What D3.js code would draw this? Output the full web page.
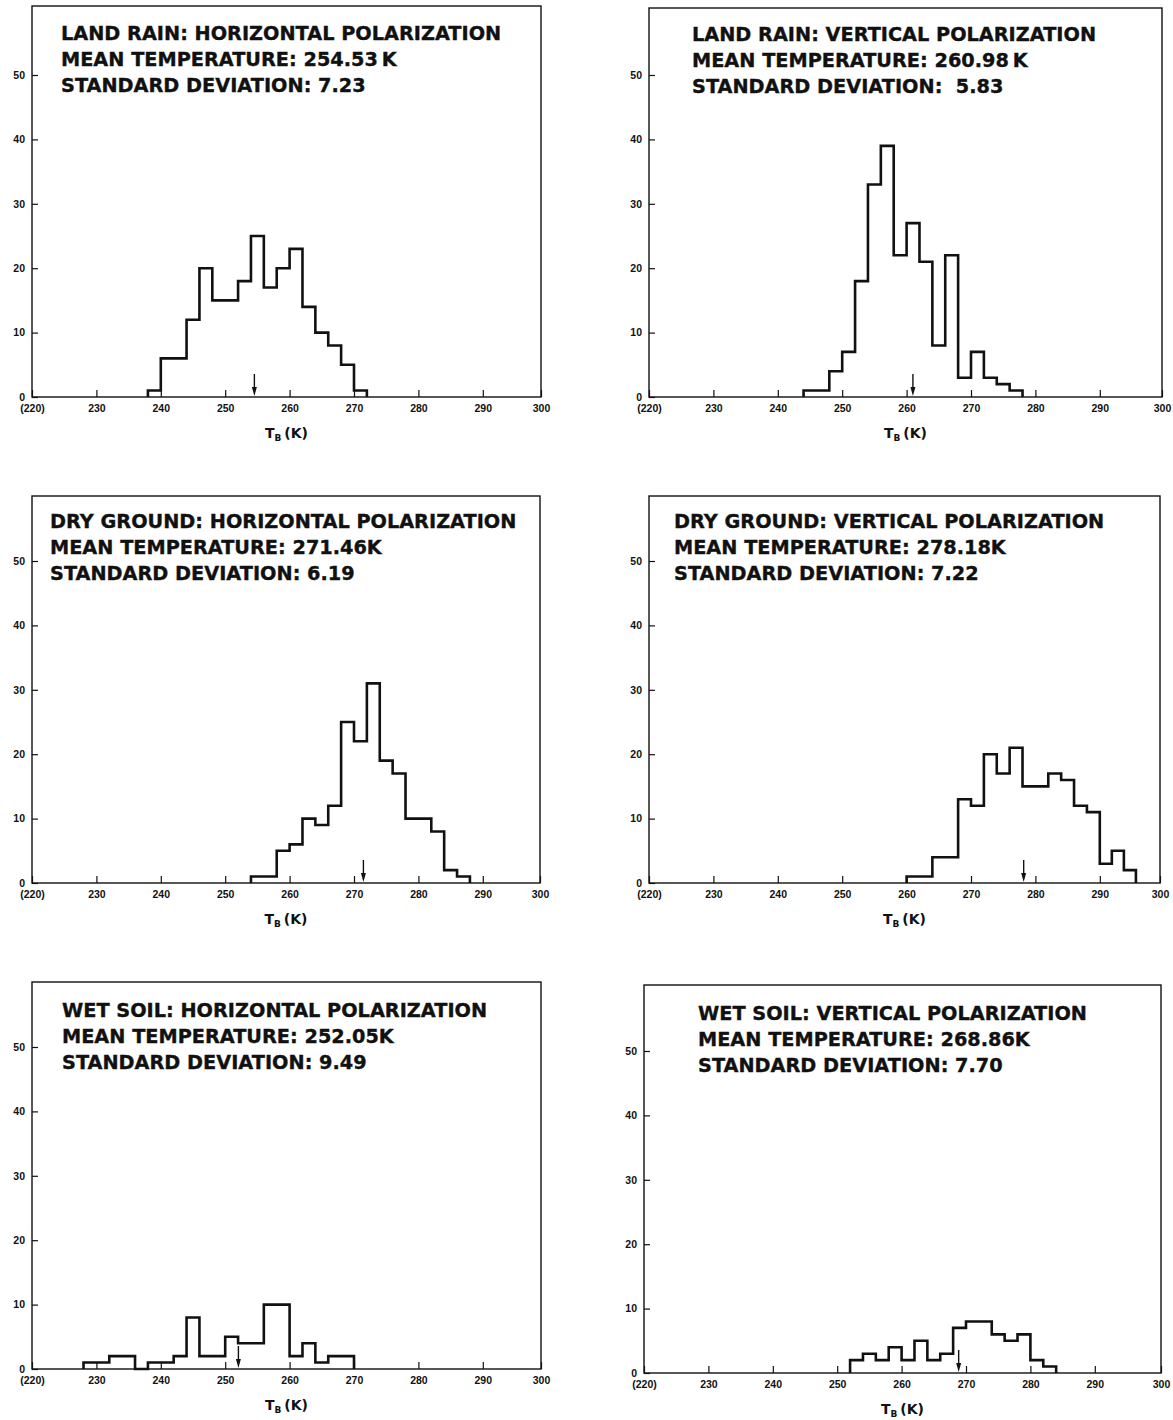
<!DOCTYPE html>
<html>
<head>
<meta charset="utf-8">
<script src="https://cdn.jsdelivr.net/npm/d3@7"></script>
<style>
  body { margin: 0; background: #fff; }
  svg { display: block; }
</style>
</head>
<body>
<svg id="chart" width="1173" height="1420"></svg>
<script>
// counts per 2 K bin
var binWidth = 2;
var landRainH = [1, 6, 6, 12, 20, 15, 15, 18, 25, 17, 20, 23, 14, 10, 8, 5, 1];
var landRainV = [1, 1, 4, 7, 18, 33, 39, 22, 27, 21, 8, 22, 3, 7, 3, 2, 1];
var dryGroundH = [1, 1, 5, 6, 10, 9, 12, 25, 22, 31, 19, 17, 10, 10, 8, 2, 1];
var dryGroundV = [1, 1, 4, 4, 13, 12, 20, 17, 21, 15, 15, 17, 16, 12, 11, 3, 5, 2];
var wetSoilH = [1, 1, 2, 2, 0, 1, 1, 2, 8, 2, 2, 5, 4, 4, 10, 10, 2, 4, 1, 2, 2];
var wetSoilV = [2, 3, 2, 4, 2, 5, 2, 3, 7, 8, 8, 6, 5, 6, 2, 1];

var series = [landRainH, landRainV, dryGroundH, dryGroundV, wetSoilH, wetSoilV];
var binStarts = [238, 244, 254, 260, 228, 252];
var means = [254.53, 260.98, 271.46, 278.18, 252.05, 268.86];

var titles = [
  "LAND RAIN: HORIZONTAL POLARIZATION",
  "LAND RAIN: VERTICAL POLARIZATION",
  "DRY GROUND: HORIZONTAL POLARIZATION",
  "DRY GROUND: VERTICAL POLARIZATION",
  "WET SOIL: HORIZONTAL POLARIZATION",
  "WET SOIL: VERTICAL POLARIZATION"
];
var meanLabels = ["254.53\u2009K", "260.98\u2009K", "271.46K", "278.18K", "252.05K", "268.86K"];
var sdLabels = ["7.23", "\u00a05.83", "6.19", "7.22", "9.49", "7.70"];

var xTicks = [220, 230, 240, 250, 260, 270, 280, 290, 300];
var yTicks = [0, 10, 20, 30, 40, 50];

// panel frames (pixels)
var layout = [
  { left: 32, right: 541, top: 6, base: 397, tx: 61, ty: 40 },
  { left: 649, right: 1162, top: 8, base: 397, tx: 692, ty: 41 },
  { left: 32, right: 540, top: 496, base: 883, tx: 50, ty: 528 },
  { left: 649, right: 1160, top: 496, base: 883, tx: 674, ty: 528 },
  { left: 32, right: 541, top: 982, base: 1369, tx: 62, ty: 1017 },
  { left: 644, right: 1161, top: 985, base: 1373, tx: 698, ty: 1020 }
];

var svg = d3.select("#chart");
var pxPerK = 6.44;

layout.forEach(function (p, i) {
  var g = svg.append("g");

  // last decade on the original axis is slightly squeezed
  var x = d3.scaleLinear()
    .domain([220, 290, 300])
    .range([p.left, p.left + 70 * pxPerK, p.right]);
  var y = d3.scaleLinear()
    .domain([0, 50])
    .range([p.base, p.base - 322]);

  g.append("rect")
    .attr("x", p.left)
    .attr("y", p.top)
    .attr("width", p.right - p.left)
    .attr("height", p.base - p.top)
    .attr("fill", "none")
    .attr("stroke", "#111")
    .attr("stroke-width", 1.4);

  var xAxis = g.append("g")
    .attr("transform", "translate(0," + p.base + ")")
    .call(d3.axisBottom(x)
      .tickValues(xTicks)
      .tickSize(-7)
      .tickPadding(8)
      .tickFormat(function (d) { return d === 220 ? "(220)" : d; }));
  xAxis.select(".domain").remove();

  var yAxis = g.append("g")
    .attr("transform", "translate(" + p.left + ",0)")
    .call(d3.axisLeft(y)
      .tickValues(yTicks)
      .tickSize(-6)
      .tickPadding(7));
  yAxis.select(".domain").remove();

  g.selectAll(".tick line").attr("stroke", "#111").attr("stroke-width", 1.2);
  g.selectAll(".tick text")
    .attr("fill", "#111")
    .attr("font-family", "Liberation Sans, Arial, sans-serif")
    .attr("font-weight", "bold")
    .attr("font-size", 10.5);

  // histogram outline
  var counts = series[i];
  var pts = [[binStarts[i], 0]];
  counts.forEach(function (c, k) { pts.push([binStarts[i] + k * binWidth, c]); });
  pts.push([binStarts[i] + counts.length * binWidth, 0]);

  var line = d3.line()
    .x(function (d) { return x(d[0]); })
    .y(function (d) { return y(d[1]); })
    .curve(d3.curveStepAfter);

  g.append("path")
    .attr("d", line(pts))
    .attr("fill", "none")
    .attr("stroke", "#111")
    .attr("stroke-width", 2.6)
    .attr("stroke-linejoin", "miter");

  // mean arrow
  var mx = x(means[i]);
  g.append("line")
    .attr("x1", mx).attr("x2", mx)
    .attr("y1", p.base - 23).attr("y2", p.base - 6)
    .attr("stroke", "#111")
    .attr("stroke-width", 1.4);
  g.append("path")
    .attr("d", "M" + (mx - 2.5) + "," + (p.base - 10) + "L" + (mx + 2.5) + "," + (p.base - 10) + "L" + mx + "," + (p.base - 1) + "Z")
    .attr("fill", "#111");

  // title block
  var tb = g.append("text")
    .attr("font-family", "DejaVu Sans, sans-serif")
    .attr("font-weight", "bold")
    .attr("font-size", 19.3)
    .attr("fill", "#111")
    .attr("stroke", "#111")
    .attr("stroke-width", 0.35);
  [titles[i], "MEAN TEMPERATURE: " + meanLabels[i], "STANDARD DEVIATION: " + sdLabels[i]]
    .forEach(function (t, k) {
      tb.append("tspan")
        .attr("x", p.tx)
        .attr("y", p.ty + k * 26)
        .text(t);
    });

  // axis title  T_B (K)
  var at = g.append("text")
    .attr("x", (p.left + p.right) / 2)
    .attr("y", p.base + 41)
    .attr("text-anchor", "middle")
    .attr("font-family", "DejaVu Sans, sans-serif")
    .attr("font-weight", "bold")
    .attr("font-size", 14)
    .attr("fill", "#111");
  at.append("tspan").text("T");
  at.append("tspan").attr("font-size", 9).attr("dy", 3).text("B");
  at.append("tspan").attr("dy", -3).text("\u2009(K)");
});
</script>
</body>
</html>
